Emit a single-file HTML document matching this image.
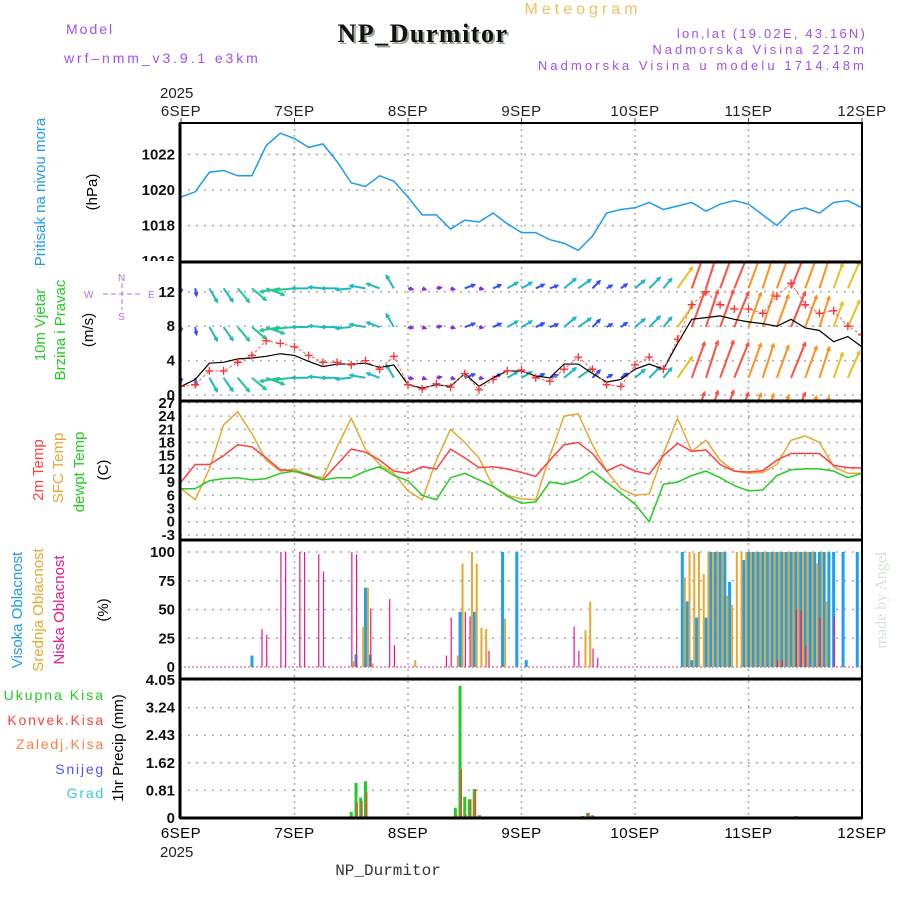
<!DOCTYPE html>
<html><head><meta charset="utf-8"><style>
html,body{margin:0;padding:0;background:#fff;}
svg{display:block;font-family:"Liberation Sans",sans-serif;}
</style></head><body>
<svg id="chart" width="900" height="900" viewBox="0 0 900 900" xmlns="http://www.w3.org/2000/svg">
<defs>
<clipPath id="cpP"><rect x="180" y="123" width="682" height="139"/></clipPath>
<clipPath id="cpW"><rect x="180" y="262" width="682" height="139"/></clipPath>
<clipPath id="cpLbl"><rect x="120" y="240" width="60" height="21"/></clipPath>
</defs>
<g id="header">
<text x="66" y="34" font-size="14" fill="#a050f0" letter-spacing="2">Model</text>
<text x="64" y="63" font-size="14" fill="#a050f0" letter-spacing="2.9">wrf–nmm_v3.9.1 e3km</text>
<text x="425" y="44" font-size="26" font-weight="bold" font-family="Liberation Serif,serif" text-anchor="middle" fill="#9aa89a" letter-spacing="1.5">NP_Durmitor</text>
<text x="423" y="42" font-size="26" font-weight="bold" font-family="Liberation Serif,serif" text-anchor="middle" fill="#111" letter-spacing="1.5">NP_Durmitor</text>
<text x="583" y="14" font-size="16" fill="#f0c060" text-anchor="middle" letter-spacing="4">Meteogram</text>
<text x="867" y="38" font-size="13" fill="#a050f0" text-anchor="end" letter-spacing="2.2">lon,lat (19.02E, 43.16N)</text>
<text x="867" y="54" font-size="13" fill="#a050f0" text-anchor="end" letter-spacing="3">Nadmorska Visina 2212m</text>
<text x="867" y="70" font-size="13" fill="#a050f0" text-anchor="end" letter-spacing="3.1">Nadmorska Visina u modelu 1714.48m</text>
<text x="388" y="875" font-size="16" font-family="Liberation Mono,monospace" fill="#333" text-anchor="middle">NP_Durmitor</text>
<text transform="translate(886,600) rotate(-90)" font-size="16" font-family="Liberation Serif,serif" fill="#d6e4d6" text-anchor="middle">made by Angel</text>
</g>
<g id="grid"></g>
<g id="series"></g>
<g id="frames"></g>
<g id="labels">
<text transform="translate(45,192) rotate(-90)" font-size="15" fill="#1e9bf0" text-anchor="middle">Pritisak na nivou mora</text>
<text transform="translate(97,192) rotate(-90)" font-size="15" fill="#000" text-anchor="middle">(hPa)</text>
<text transform="translate(45,325) rotate(-90)" font-size="15" fill="#22cc22" text-anchor="middle">10m Vjetar</text>
<text transform="translate(65,330) rotate(-90)" font-size="15" fill="#22cc22" text-anchor="middle">Brzina i Pravac</text>
<text transform="translate(93,330) rotate(-90)" font-size="15" fill="#000" text-anchor="middle">(m/s)</text>
<g fill="#b070f0" stroke="#b070f0" font-size="10">
<text stroke="none" x="84" y="298">W</text><text stroke="none" x="148" y="298">E</text>
<text stroke="none" x="118" y="281">N</text><text stroke="none" x="118" y="320">S</text>
<line x1="103" y1="294" x2="142" y2="294" stroke-dasharray="5,3"/>
<line x1="122" y1="283" x2="122" y2="310" stroke-dasharray="5,3"/>
</g>
<text transform="translate(43,470) rotate(-90)" font-size="15" fill="#ff4040" text-anchor="middle">2m Temp</text>
<text transform="translate(63,468) rotate(-90)" font-size="15" fill="#e8a830" text-anchor="middle">SFC Temp</text>
<text transform="translate(84,472) rotate(-90)" font-size="15" fill="#22cc22" text-anchor="middle">dewpt Temp</text>
<text transform="translate(108,470) rotate(-90)" font-size="15" fill="#000" text-anchor="middle">(C)</text>
<text transform="translate(22,610) rotate(-90)" font-size="15" fill="#1e9bf0" text-anchor="middle">Visoka Oblacnost</text>
<text transform="translate(43,610) rotate(-90)" font-size="15" fill="#e8a830" text-anchor="middle">Srednja Oblacnost</text>
<text transform="translate(64,610) rotate(-90)" font-size="15" fill="#e8188a" text-anchor="middle">Niska Oblacnost</text>
<text transform="translate(108,610) rotate(-90)" font-size="15" fill="#000" text-anchor="middle">(%)</text>
<text x="105" y="700" font-size="14" fill="#22cc22" text-anchor="end" letter-spacing="2">Ukupna Kisa</text>
<text x="105" y="725" font-size="14" fill="#ff4040" text-anchor="end" letter-spacing="1.8">Konvek.Kisa</text>
<text x="105" y="749" font-size="14" fill="#ff8040" text-anchor="end" letter-spacing="1.8">Zaledj.Kisa</text>
<text x="105" y="774" font-size="14" fill="#5050ff" text-anchor="end" letter-spacing="1.8">Snijeg</text>
<text x="105" y="798" font-size="14" fill="#30d0d0" text-anchor="end" letter-spacing="1.8">Grad</text>
<text transform="translate(123,748) rotate(-90)" font-size="15" fill="#000" text-anchor="middle">1hr Precip (mm)</text>
</g>
</svg>
<script>
// ---- data (3-hourly from 6SEP 00z, 49 points) ----
const dayLabels = ["6SEP","7SEP","8SEP","9SEP","10SEP","11SEP","12SEP"];
const pressureTicks = [1016,1018,1020,1022];
const windTicks = [0,4,8,12];
const tempTicks = [-3,0,3,6,9,12,15,18,21,24,27];
const cloudTicks = [0,25,50,75,100];
const precipTicks = ["0","0.81","1.62","2.43","3.24","4.05"];
const pressure = [1019.6,1019.9,1021.0,1021.1,1020.8,1020.8,1022.5,1023.2,1022.9,1022.4,1022.6,1021.6,1020.4,1020.2,1020.8,1020.5,1019.6,1018.6,1018.6,1017.8,1018.3,1018.2,1018.7,1018.1,1017.6,1017.6,1017.2,1017.0,1016.6,1017.4,1018.7,1018.9,1019.0,1019.3,1018.9,1019.1,1019.3,1018.8,1019.2,1019.4,1019.2,1018.6,1018.0,1018.8,1019.0,1018.7,1019.3,1019.4,1019.0];
const temp2m = [9,13,13,15,17.5,17,14.5,11.8,11.5,10.5,9.5,13,16.5,15.8,14,11.5,11,12.5,12,16.5,14.5,12.3,12.5,12,11.2,10.3,14,17.5,18,15.5,11.5,13,11.5,10.8,15,17.8,16,16.3,13,11.5,11.3,11.6,14,15.5,15.5,15.5,12.8,12.3,12.2];
const tempSfc = [7.5,5,12,22,25,20,14,11.5,12,10.5,10,17,23.5,16.5,13,11,7,5,14,21,18,14.5,8,6,5.2,5,15,24,24.5,17.5,11.5,7.5,6,6.3,15.5,23.5,16,18.5,14,11.5,11,11.2,13,18.5,19.5,18,12.5,11,11];
const tempDew = [7.5,7.5,9.3,9.8,10,9.5,9.8,11,11.5,10.8,9.5,10,10,11.5,12.5,10.5,9.3,6,5,10,11,9.5,8,5.8,4.2,4.5,9,8.5,9.5,11.5,9,6.5,4,0,8.5,9,10.5,11.5,10,8.2,7,7.2,10.5,11.8,12,12,11.5,10,11];
const windSpeed = [1.0,1.8,3.7,3.8,4.2,4.3,4.5,4.8,4.6,3.9,3.3,3.6,3.6,3.7,3.2,3.5,1.2,0.8,1.2,1.0,2.5,1.0,2.0,2.8,2.8,2.2,2.0,3.6,3.6,2.5,1.5,1.8,3.0,3.6,3.0,6.0,8.8,9.0,9.2,8.8,8.5,8.3,8.0,8.8,7.8,7.5,6.2,6.8,5.6];
const windGust = [1.0,1.2,2.8,2.8,3.8,4.6,6.3,6.0,5.6,4.6,3.8,3.8,3.5,4.0,3.0,4.5,1.2,0.7,1.3,0.9,2.5,0.6,1.8,2.8,2.9,2.0,1.6,3.0,4.4,3.0,1.2,1.0,3.5,4.4,3.0,6.5,10.5,12.0,10.5,10.0,10.0,9.5,11.5,13.0,10.5,9.5,9.8,8.0,7.0];
const windDirDeg = [-90,-80,-60,-55,-50,-40,-20,190,185,180,175,180,185,170,160,120,-10,-20,10,-15,20,-10,25,30,30,25,20,40,35,45,30,35,40,45,50,55,70,72,70,68,70,72,70,68,70,72,70,66,68];
const windRowLevels = [12.4,7.9,2.0,-3.8];
// cloud cover (hour, percent)
const cloudLowHours = [17,18,21,22,25,26,29,30,36,37,40,44,45,56,57,60,61,65,83,84,87,88,126,127,130,131,132,135,138];
const cloudLowVals  = [33,28,100,100,100,100,98,83,100,98,51,59,19,10,43,48,44,14,35,14,16,8,6,6,50,49,18,43,44];
const cloudMidHours = [36,38,39,40,49,58,59,61,62,63,64,68,85,86,106,107,108,109,110,111,112,113,114,115,116,117,118,119,120,121,122,123,124,125,126,127,128,129,130,131,132,133,134,135,136];
const cloudMidVals  = [5,35,69,3,6,10,90,100,90,34,33,42,32,57,78,100,99,100,81,100,100,100,100,62,54,100,100,100,100,100,100,100,100,100,100,100,100,100,100,100,100,100,90,100,57];
const cloudHighHours = [15,37,39,40,59,62,68,71,73,106,107,108,109,111,112,113,114,115,116,119,120,121,122,123,124,125,126,127,128,129,130,131,132,133,134,135,136,137,138,140,143];
const cloudHighVals  = [10,11,69,11,48,48,100,100,6,100,57,6,43,43,100,100,100,100,74,93,100,100,100,100,100,100,100,100,100,100,100,100,100,100,100,100,100,100,100,100,100];
// precipitation (hour, mm)
const precipHours = [21,24,36,37,38,39,58,59,60,61,62,63,85,86,87,130];
const precipTotal = [0.03,0.02,0.18,1.03,0.6,1.08,0.3,3.88,0.62,0.55,0.85,0.08,0.06,0.15,0.08,0.06];
const precipConv  = [0,0,0.05,0.45,0.5,0.77,0.1,1.44,0.1,0.55,0.85,0.08,0.03,0.15,0.05,0.03];
</script>
<script>
const NS="http://www.w3.org/2000/svg";
const X0=181, X1=862;
const xH = h => X0 + h*(X1-X0)/144;
const xK = k => xH(k*3);
const yP = v => 261 - (v-1016)*17.75;
const yW = v => 395 - v*8.6;
const yT = v => 521.7 - v*4.4;
const yC = v => 667 - v*1.15;
const yR = v => 818 - v*(138/4.05);
function el(tag, attrs, parent){const e=document.createElementNS(NS,tag);for(const k in attrs)e.setAttribute(k,attrs[k]);parent.appendChild(e);return e;}
const grid=document.getElementById('grid'), series=document.getElementById('series'), frames=document.getElementById('frames');
const panels=[[123,262],[262,401],[401,540],[540,679],[679,818]];
dayLabels.forEach((d,i)=>{
  const x=xH(i*24);
  if(i>0&&i<6){const l=el('line',{x1:x,y1:123,x2:x,y2:818,stroke:'#aaa','stroke-width':1.5,'stroke-dasharray':'2,4'},grid);
  
  }
  const t=el('text',{x:x,y:116,'font-size':15,'text-anchor':'middle',fill:'#222','letter-spacing':'0.5'},frames);t.textContent=d;
  
  
  const b=el('text',{x:x,y:838,'font-size':15,'text-anchor':'middle',fill:'#000','letter-spacing':'0.5'},frames);b.textContent=d;
  
  
  el('line',{x1:x,y1:118,x2:x,y2:123,stroke:'#444'},frames);
});
[[160,98],[160,857]].forEach(p=>{const t=el('text',{x:p[0],y:p[1],'font-size':15,fill:'#222'},frames);t.textContent='2025';
  
  });
function hgrid(vals,fy,fmt,clip){
  vals.forEach(v=>{const y=fy(typeof v==='string'?parseFloat(v):v);
    const l=el('line',{x1:180,y1:y,x2:862,y2:y,stroke:'#aaa','stroke-width':1.5,'stroke-dasharray':'2,6'},grid);
    
    
    const t=el('text',{x:175,y:y+5,'font-size':15,'font-weight':'bold','text-anchor':'end',fill:'#111'},frames);
    if(clip&&v===vals[0])t.setAttribute('clip-path','url(#cpLbl)');
    t.textContent=String(v);
    
    });
}
hgrid(pressureTicks,yP,null,true);
hgrid(windTicks,yW);
hgrid(tempTicks,yT);
hgrid(cloudTicks,yC);
hgrid(precipTicks,yR);
function line(arr,fy,color,name,clip,w){
  const p=el('polyline',{points:arr.map((v,k)=>xK(k)+','+fy(v)).join(' '),fill:'none',stroke:color,'stroke-width':w||1.5},series);
  if(clip)p.setAttribute('clip-path',clip);
  
  
}
line(pressure,yP,'#1e9bf0','pressure-line','url(#cpP)');
function windColor(s){
  if(s<1.5)return '#8a2be2'; if(s<2.6)return '#3050ff'; if(s<4)return '#20b8c0'; if(s<5.5)return '#20c890';
  if(s<7)return '#e8c020'; if(s<8.6)return '#ff9020'; if(s<9.5)return '#ff5040'; return '#ff2070';
}
const wg=el('g',{'clip-path':'url(#cpW)'},series);


windRowLevels.forEach(lv=>{
  windSpeed.forEach((s,k)=>{
    const x=xK(k), y=yW(lv), L=Math.max(4,s*4.3), a=windDirDeg[k]*Math.PI/180;
    const x2=x+L*Math.cos(a), y2=y-L*Math.sin(a), c=windColor(s);
    const g=el('g',{stroke:c,'stroke-width':2,fill:'none'},wg);
    
    
    el('line',{x1:x,y1:y,x2:x2,y2:y2},g);
    const h1=a+Math.PI*0.85,h2=a-Math.PI*0.85;
    el('polyline',{points:`${x2+4*Math.cos(h1)},${y2-4*Math.sin(h1)} ${x2},${y2} ${x2+4*Math.cos(h2)},${y2-4*Math.sin(h2)}`,'stroke-width':1.3},g);
  });
});
line(windSpeed,yW,'#000','wind-speed-line','url(#cpW)',1.2);
const gp=el('polyline',{points:windGust.map((v,k)=>xK(k)+','+yW(v)).join(' '),fill:'none',stroke:'#ff6060','stroke-width':1,'stroke-dasharray':'3,2','clip-path':'url(#cpW)'},series);


windGust.forEach((v,k)=>{const x=xK(k),y=yW(v);
  const p=el('path',{d:`M${x-4},${y}H${x+4}M${x},${y-4}V${y+4}`,stroke:'#ff3030','stroke-width':1.3,'clip-path':'url(#cpW)'},series);
  
  });
line(tempSfc,yT,'#e8a830','sfc-temp-line');
line(temp2m,yT,'#ff4040','temp-2m-line');
line(tempDew,yT,'#22cc22','dewpoint-line');
const bl=el('line',{x1:180,y1:667,x2:862,y2:667,stroke:'#e880b0','stroke-width':1.5,'stroke-dasharray':'2,2'},series);


function bars(hours,vals,fy,color,w,off,name){
  hours.forEach((h,i)=>{const y=fy(vals[i]),y0=fy(0);
    const r=el('rect',{x:xH(h)+off,y:y,width:w,height:Math.max(0,y0-y),fill:color},series);
    
    });
}
bars(cloudHighHours,cloudHighVals,yC,'#1ea0f0',3,-1.5,'cloud-high-bar');
bars(cloudMidHours,cloudMidVals,yC,'#e8a830',2,1.5,'cloud-mid-bar');
bars(cloudLowHours,cloudLowVals,yC,'#e8188a',1.2,0,'cloud-low-bar');
bars(precipHours,precipTotal,yR,'#22cc22',3,-1.5,'precip-total-bar');
bars(precipHours,precipConv,yR,'#ff4040',1.5,0.5,'precip-convective-bar');
panels.forEach((p,i)=>{
  const r=el('rect',{x:180,y:p[0],width:682,height:p[1]-p[0],fill:'none',stroke:'#000','stroke-width':2},frames);
  
  
  if(i>0){const l=el('line',{x1:180,y1:p[0],x2:862,y2:p[0],stroke:'#000','stroke-width':3},frames);
    
    }
});
el('line',{x1:180,y1:123,x2:180,y2:818,stroke:'#000','stroke-width':3},frames);
el('line',{x1:180,y1:818,x2:862,y2:818,stroke:'#000','stroke-width':3},frames);
</script>
</body></html>
